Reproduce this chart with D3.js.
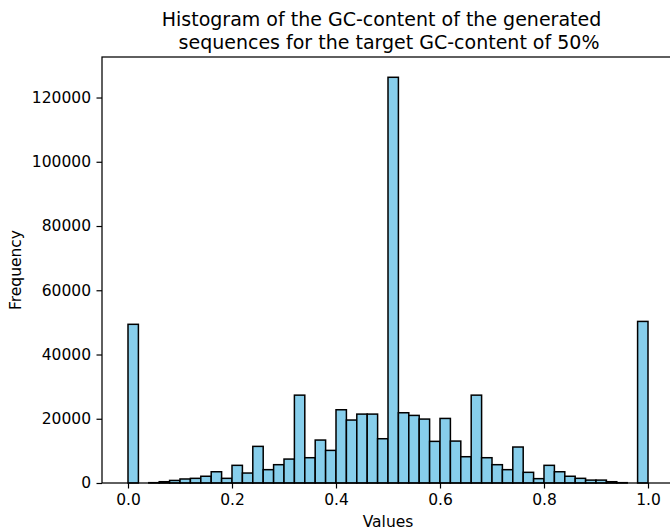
<!DOCTYPE html>
<html>
<head>
<meta charset="utf-8">
<script src="https://cdn.jsdelivr.net/npm/d3@7"></script>
<style>
  body { margin: 0; background: #fff; }
  text { font-family: "DejaVu Sans", sans-serif; fill: #000; }
</style>
</head>
<body>
<script>
// histogram: 50 bins of width 0.02 over [0, 1]
const binCount = 50
const binWidth = 0.02
const counts = [
  49400, 0, 100, 400, 800, 1250, 1450, 2100, 3500, 1450,
  5500, 3100, 11400, 4150, 5700, 7450, 27350, 7870, 13370, 10150,
  22800, 19600, 21450, 21450, 13780, 126300, 21870, 21040, 19900, 12960,
  20100, 13050, 8180, 27350, 7870, 5700, 4150, 11200, 3320, 1350,
  5500, 3500, 2100, 1450, 900, 900, 400, 100, 0, 50300
]
const xTicks = [0.0, 0.2, 0.4, 0.6, 0.8, 1.0]
const yTicks = [0, 20000, 40000, 60000, 80000, 100000, 120000]
const titleLines = ["Histogram of the GC-content of the generated", "sequences for the target GC-content of 50%"]

const bins = counts.map((c, i) => ({ x0: i * binWidth, x1: (i + 1) * binWidth, count: c }))

const width = 670, height = 531
const margin = { top: 57, right: -4, bottom: 48, left: 102 }
const tickFont = 15.5

const svg = d3.select("body").append("svg")
  .attr("width", width)
  .attr("height", height)

const x = d3.scaleLinear()
  .domain([-0.05, 1.05])
  .range([margin.left, width - margin.right])

const yMax = d3.max(counts) * 1.05
const y = d3.scaleLinear()
  .domain([0, yMax])
  .range([height - margin.bottom, margin.top])

// bars
svg.append("g")
  .selectAll("rect")
  .data(bins)
  .join("rect")
  .attr("x", d => x(d.x0))
  .attr("y", d => y(d.count))
  .attr("width", d => x(d.x1) - x(d.x0))
  .attr("height", d => y(0) - y(d.count))
  .attr("fill", "#87ceeb")
  .attr("stroke", "#000")
  .attr("stroke-width", 1.5)

// axes
const xAxis = svg.append("g")
  .attr("transform", `translate(0,${height - margin.bottom})`)
  .call(d3.axisBottom(x).tickValues(xTicks).tickFormat(d3.format(".1f")).tickSize(5.5).tickPadding(5))
const yAxis = svg.append("g")
  .attr("transform", `translate(${margin.left},0)`)
  .call(d3.axisLeft(y).tickValues(yTicks).tickFormat(d3.format("d")).tickSize(5.5).tickPadding(5.5))

for (const ax of [xAxis, yAxis]) {
  ax.select(".domain").remove()
  ax.selectAll(".tick line").attr("stroke", "#000").attr("stroke-width", 1.2)
  ax.selectAll(".tick text").attr("font-size", tickFont).attr("font-family", "DejaVu Sans").attr("fill", "#000")
}

// spines
svg.append("rect")
  .attr("x", margin.left)
  .attr("y", margin.top)
  .attr("width", x(1.05) - margin.left)
  .attr("height", y(0) - margin.top)
  .attr("fill", "none")
  .attr("stroke", "#000")
  .attr("stroke-width", 1.25)

// labels
svg.append("text")
  .attr("x", x(0.5))
  .attr("y", 527)
  .attr("text-anchor", "middle")
  .attr("font-size", tickFont)
  .text("Values")

svg.append("text")
  .attr("transform", `translate(21,${(margin.top + y(0)) / 2}) rotate(-90)`)
  .attr("text-anchor", "middle")
  .attr("font-size", tickFont)
  .text("Frequency")

svg.append("g")
  .selectAll("text")
  .data(titleLines)
  .join("text")
  .attr("x", (d, i) => i == 0 ? 381.5 : 389)
  .attr("y", (d, i) => 26 + i * 23)
  .attr("text-anchor", "middle")
  .attr("font-size", 19)
  .text(d => d)
</script>
</body>
</html>
